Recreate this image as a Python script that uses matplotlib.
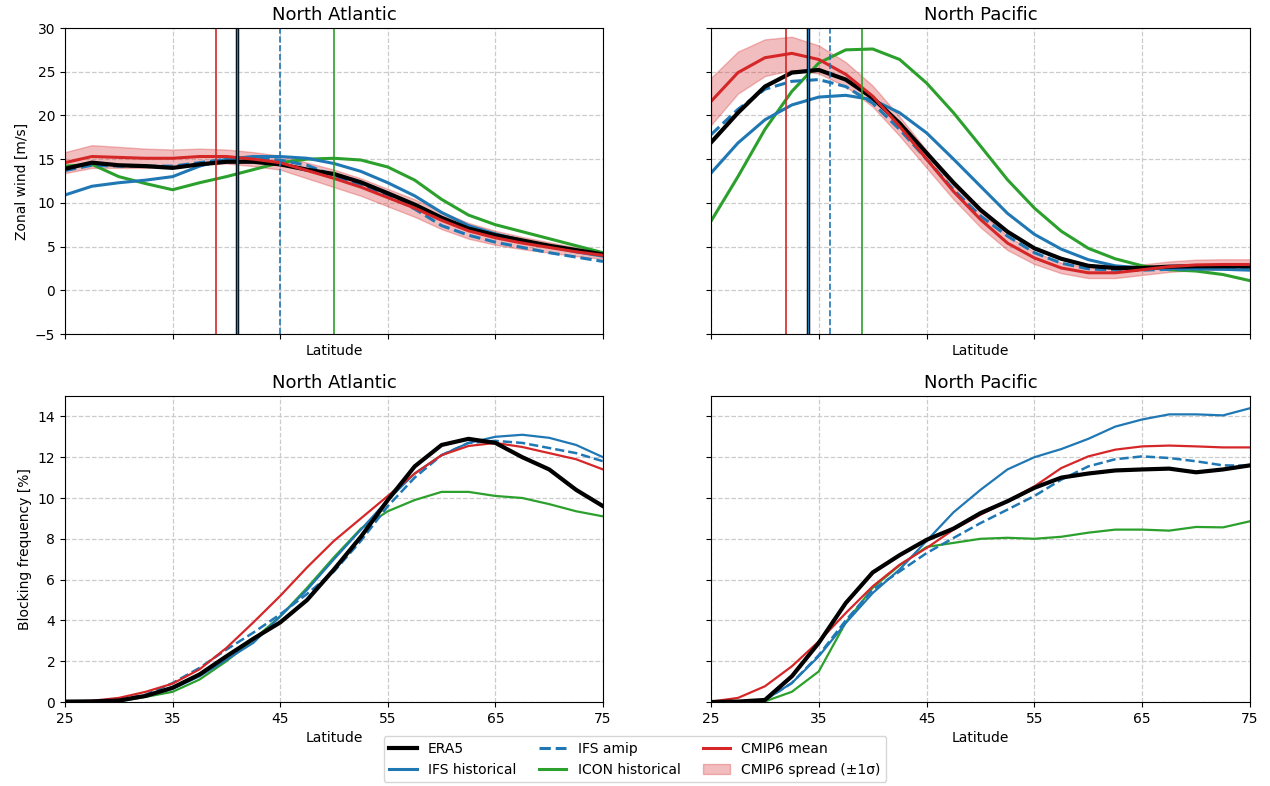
import numpy as np
import matplotlib
matplotlib.use("Agg")
import matplotlib.pyplot as plt
from matplotlib.lines import Line2D
from matplotlib.patches import Patch

lat = [25, 27.5, 30, 32.5, 35, 37.5, 40, 42.5, 45, 47.5, 50,
       52.5, 55, 57.5, 60, 62.5, 65, 67.5, 70, 72.5, 75]

# ---- Zonal wind, North Atlantic ----
u_na_era5 = [13.9, 14.6, 14.3, 14.2, 14.0, 14.4, 14.7, 14.7, 14.4, 13.8, 13.3,
             12.35, 11.1, 9.8, 8.3, 7.05, 6.3, 5.7, 5.1, 4.6, 4.1]
u_na_ifs_hist = [10.9, 11.9, 12.3, 12.6, 13.0, 14.2, 15.0, 15.3, 15.3, 15.1, 14.5,
                 13.6, 12.3, 10.8, 8.9, 7.4, 6.45, 5.7, 5.0, 4.4, 3.9]
u_na_ifs_amip = [13.7, 14.3, 14.2, 14.2, 14.2, 14.6, 15.0, 15.1, 14.9, 14.3, 13.1,
                 12.1, 10.9, 9.3, 7.4, 6.3, 5.5, 4.9, 4.3, 3.8, 3.3]
u_na_icon = [14.2, 14.4, 13.0, 12.2, 11.5, 12.3, 13.0, 13.8, 14.6, 15.0, 15.1,
             14.9, 14.1, 12.6, 10.4, 8.6, 7.5, 6.7, 5.9, 5.1, 4.3]
u_na_cmip = [14.6, 15.3, 15.2, 15.1, 15.1, 15.3, 15.3, 15.0, 14.6, 13.7, 12.8,
             11.8, 10.6, 9.4, 8.0, 6.8, 6.0, 5.4, 4.9, 4.4, 4.0]
u_na_cmip_sd = [1.2, 1.3, 1.2, 1.1, 1.0, 0.9, 0.8, 0.8, 0.8, 0.9, 1.0,
                1.0, 1.0, 1.0, 1.0, 0.9, 0.8, 0.7, 0.6, 0.5, 0.4]

# ---- Zonal wind, North Pacific ----
u_np_era5 = [16.9, 20.3, 23.3, 24.9, 25.2, 24.1, 22.0, 19.1, 15.7, 12.3, 9.2,
             6.7, 4.8, 3.6, 2.8, 2.55, 2.55, 2.7, 2.75, 2.75, 2.75]
u_np_ifs_hist = [13.4, 16.85, 19.5, 21.2, 22.1, 22.3, 21.8, 20.3, 18.0, 15.0, 11.9,
                 8.8, 6.4, 4.7, 3.5, 2.8, 2.55, 2.5, 2.45, 2.4, 2.3]
u_np_ifs_amip = [17.8, 20.7, 23.0, 23.9, 24.1, 23.3, 21.4, 18.4, 15.0, 11.5, 8.5,
                 6.2, 4.3, 3.1, 2.45, 2.3, 2.3, 2.4, 2.45, 2.5, 2.55]
u_np_icon = [7.9, 13.0, 18.4, 22.75, 26.0, 27.5, 27.6, 26.4, 23.7, 20.3, 16.5,
             12.65, 9.4, 6.75, 4.8, 3.6, 2.8, 2.35, 2.2, 1.8, 1.1]
u_np_cmip = [21.6, 24.9, 26.6, 27.1, 26.4, 24.7, 22.2, 18.75, 15.0, 11.3, 8.1,
             5.4, 3.7, 2.55, 2.0, 2.0, 2.35, 2.7, 2.9, 2.95, 2.95]
u_np_cmip_sd = [2.7, 2.4, 2.1, 1.9, 1.6, 1.4, 1.2, 1.1, 1.0, 0.9, 0.9,
                0.8, 0.7, 0.6, 0.6, 0.6, 0.6, 0.6, 0.6, 0.6, 0.6]

# ---- Jet latitudes (vertical lines) ----
jet_na = {"era5": 41, "ifs_hist": 41, "ifs_amip": 45, "icon": 50, "cmip": 39}
jet_np = {"era5": 34, "ifs_hist": 34, "ifs_amip": 36, "icon": 39, "cmip": 32}

# ---- Blocking frequency, North Atlantic ----
b_na_era5 = [0.02, 0.03, 0.07, 0.3, 0.7, 1.35, 2.24, 3.1, 3.9, 5.0, 6.5,
             8.1, 9.9, 11.55, 12.6, 12.9, 12.7, 12.0, 11.4, 10.4, 9.6]
b_na_ifs_hist = [0.0, 0.02, 0.05, 0.28, 0.64, 1.26, 2.07, 2.9, 4.2, 5.5, 7.0,
                 8.45, 9.9, 11.2, 12.1, 12.7, 13.0, 13.1, 12.95, 12.6, 12.0]
b_na_ifs_amip = [0.0, 0.03, 0.1, 0.36, 0.93, 1.67, 2.57, 3.4, 4.3, 5.3, 6.4,
                 7.9, 9.6, 11.0, 12.1, 12.7, 12.8, 12.7, 12.45, 12.2, 11.8]
b_na_icon = [0.0, 0.0, 0.03, 0.25, 0.5, 1.1, 2.0, 3.05, 4.2, 5.6, 7.1,
             8.5, 9.35, 9.9, 10.3, 10.3, 10.1, 10.0, 9.7, 9.35, 9.1]
b_na_cmip = [0.02, 0.06, 0.2, 0.5, 0.9, 1.6, 2.65, 3.9, 5.2, 6.6, 7.9,
             9.0, 10.1, 11.2, 12.1, 12.55, 12.7, 12.5, 12.2, 11.9, 11.4]

# ---- Blocking frequency, North Pacific ----
b_np_era5 = [0.0, 0.02, 0.1, 1.26, 2.9, 4.85, 6.35, 7.2, 7.95, 8.5, 9.26,
             9.84, 10.5, 11.0, 11.2, 11.35, 11.4, 11.44, 11.26, 11.4, 11.6]
b_np_ifs_hist = [0.0, 0.02, 0.1, 0.93, 2.24, 3.87, 5.34, 6.5, 7.9, 9.3, 10.4,
                 11.4, 12.0, 12.4, 12.9, 13.5, 13.85, 14.1, 14.1, 14.05, 14.4]
b_np_ifs_amip = [0.0, 0.02, 0.1, 0.93, 2.3, 4.0, 5.5, 6.4, 7.3, 8.04, 8.77,
                 9.43, 10.1, 10.9, 11.55, 11.9, 12.04, 11.96, 11.8, 11.6, 11.58]
b_np_icon = [0.0, 0.0, 0.03, 0.5, 1.5, 3.9, 5.6, 6.7, 7.6, 7.8, 8.0,
             8.05, 8.0, 8.1, 8.3, 8.45, 8.45, 8.4, 8.58, 8.56, 8.86]
b_np_cmip = [0.02, 0.2, 0.77, 1.75, 2.97, 4.36, 5.67, 6.73, 7.55, 8.45, 9.18,
             9.84, 10.57, 11.47, 12.04, 12.37, 12.53, 12.57, 12.53, 12.48, 12.48]

titles = ["North Atlantic", "North Pacific"]
xticks = [25, 35, 45, 55, 65, 75]

C_BLUE, C_GREEN, C_RED = "tab:blue", "tab:green", "tab:red"

fig = plt.figure(figsize=(12.7, 7.86), dpi=100)
L1, R1 = 65 / 1270, 603 / 1270
L2, R2 = 711 / 1270, 1250 / 1270
T1, B1 = 1 - 28 / 786, 1 - 334 / 786
T2, B2 = 1 - 396 / 786, 1 - 702 / 786

ax_tl = fig.add_axes([L1, B1, R1 - L1, T1 - B1])
ax_tr = fig.add_axes([L2, B1, R2 - L2, T1 - B1])
ax_bl = fig.add_axes([L1, B2, R1 - L1, T2 - B2])
ax_br = fig.add_axes([L2, B2, R2 - L2, T2 - B2])

lat_a = np.array(lat)

wind_sets = [
    (ax_tl, u_na_era5, u_na_ifs_hist, u_na_ifs_amip, u_na_icon, u_na_cmip, u_na_cmip_sd, jet_na),
    (ax_tr, u_np_era5, u_np_ifs_hist, u_np_ifs_amip, u_np_icon, u_np_cmip, u_np_cmip_sd, jet_np),
]
for ax, e, ih, ia, ic, cm, sd, jet in wind_sets:
    cm_a, sd_a = np.array(cm), np.array(sd)
    ax.fill_between(lat_a, cm_a - sd_a, cm_a + sd_a, color=C_RED, alpha=0.3, lw=1)
    ax.plot(lat_a, ic, color=C_GREEN, lw=2.2)
    ax.plot(lat_a, ih, color=C_BLUE, lw=2.2)
    ax.plot(lat_a, ia, color=C_BLUE, lw=2.2, ls="--")
    ax.plot(lat_a, e, color="black", lw=3)
    ax.plot(lat_a, cm, color=C_RED, lw=2.2)
    ax.axvline(jet["cmip"], color=C_RED, lw=1.2)
    ax.axvline(jet["icon"], color=C_GREEN, lw=1.2)
    ax.axvline(jet["ifs_amip"], color=C_BLUE, lw=1.2, ls="--")
    ax.axvline(jet["era5"], color="black", lw=2.5)
    ax.axvline(jet["ifs_hist"], color=C_BLUE, lw=1.0)
    ax.set_ylim(-5, 30)

block_sets = [
    (ax_bl, b_na_era5, b_na_ifs_hist, b_na_ifs_amip, b_na_icon, b_na_cmip),
    (ax_br, b_np_era5, b_np_ifs_hist, b_np_ifs_amip, b_np_icon, b_np_cmip),
]
for ax, e, ih, ia, ic, cm in block_sets:
    ax.plot(lat_a, ic, color=C_GREEN, lw=1.6)
    ax.plot(lat_a, ih, color=C_BLUE, lw=1.6)
    ax.plot(lat_a, ia, color=C_BLUE, lw=1.8, ls="--")
    ax.plot(lat_a, cm, color=C_RED, lw=1.6)
    ax.plot(lat_a, e, color="black", lw=3)
    ax.set_ylim(0, 15)
    ax.set_yticks([0, 2, 4, 6, 8, 10, 12, 14])

for i, ax in enumerate([ax_tl, ax_tr, ax_bl, ax_br]):
    ax.set_xlim(25, 75)
    ax.set_xticks(xticks)
    ax.grid(True, ls="--", color="#cccccc", lw=0.9)
    ax.set_axisbelow(True)
    ax.set_title(titles[i % 2], fontsize=13)
    ax.set_xlabel("Latitude", fontsize=10)
    ax.tick_params(labelsize=10)

ax_tl.tick_params(labelbottom=False)
ax_tr.tick_params(labelbottom=False, labelleft=False)
ax_br.tick_params(labelleft=False)
ax_tl.set_ylabel("Zonal wind [m/s]", fontsize=10)
ax_bl.set_ylabel("Blocking frequency [%]", fontsize=10)

handles = [
    Line2D([], [], color="black", lw=3, label="ERA5"),
    Line2D([], [], color=C_BLUE, lw=2.2, label="IFS historical"),
    Line2D([], [], color=C_BLUE, lw=2.2, ls="--", label="IFS amip"),
    Line2D([], [], color=C_GREEN, lw=2.2, label="ICON historical"),
    Line2D([], [], color=C_RED, lw=2.2, label="CMIP6 mean"),
    Patch(facecolor=C_RED, alpha=0.3, edgecolor=C_RED, label="CMIP6 spread (\u00b11\u03c3)"),
]
fig.legend(handles=handles, loc="lower center", ncol=3, fontsize=10,
           bbox_to_anchor=(0.5, -0.004), frameon=True, columnspacing=1.6)

fig.savefig("out.png", dpi=100)
